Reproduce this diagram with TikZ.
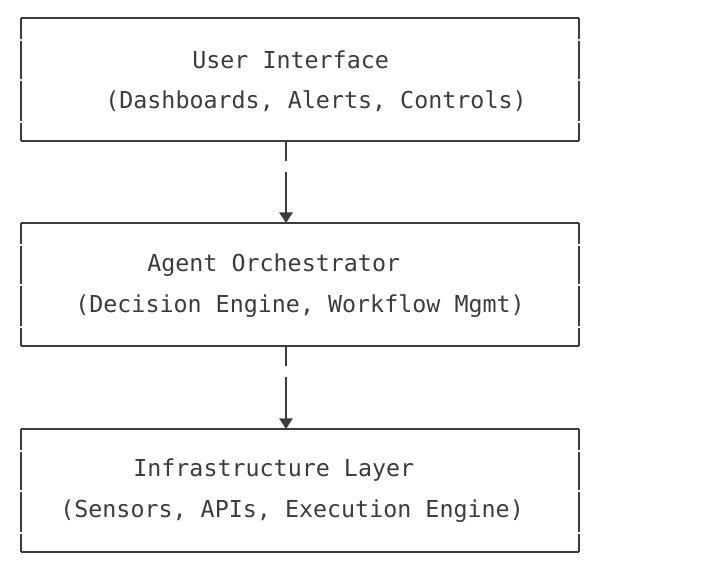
\documentclass[tikz,border=0pt]{standalone}
\usepackage{fontspec}
\setmonofont{DejaVu Sans Mono}
\usetikzlibrary{arrows.meta}
\definecolor{ink}{RGB}{60,60,60}
\tikzset{
  edge/.style={ink, line width=1.5pt},
  txt/.style={anchor=west, inner sep=0pt, text=ink, font=\ttfamily\fontsize{17.5}{20}\selectfont},
  flow/.style={ink, line width=1.5pt, -{Triangle[length=8pt,width=10pt]}}
}
\begin{document}
\begin{tikzpicture}[x=0.75pt,y=-0.75pt]
\useasboundingbox (0,0) rectangle (728,580);

% boxes: top y, name
\foreach \Y/\n in {18/ui,223/ao,429/il}{
  \node[minimum width=0pt, inner sep=0pt] (\n) at (300,\Y+61.5) {};
  \coordinate (\n-n) at (286,\Y);
  \coordinate (\n-s) at (286,\Y+123);
  \draw[edge] (21,\Y) -- (579,\Y);
  \draw[edge] (21,\Y+123) -- (579,\Y+123);
  \foreach \a/\b in {0/21,23/61,63/103,105/123}{
    \draw[edge] (21,\Y+\a) -- (21,\Y+\b);
    \draw[edge] (579,\Y+\a) -- (579,\Y+\b);
  }
}

\node[txt] (ui1) at (192,60) {User Interface};
\node[txt] (ui2) at (105,101) {(Dashboards, Alerts, Controls)};
\node[txt] (ao1) at (147,265) {Agent Orchestrator};
\node[txt] (ao2) at (75,306) {(Decision Engine, Workflow Mgmt)};
\node[txt] (il1) at (133,470) {Infrastructure Layer};
\node[txt] (il2) at (60,511) {(Sensors, APIs, Execution Engine)};

% connectors
\draw[edge] (ui-s) -- ++(0,20);
\draw[flow] ([yshift=-23]ui-s) -- (ao-n);
\draw[edge] (ao-s) -- ++(0,20);
\draw[flow] ([yshift=-23]ao-s) -- (il-n);
\end{tikzpicture}
\end{document}
